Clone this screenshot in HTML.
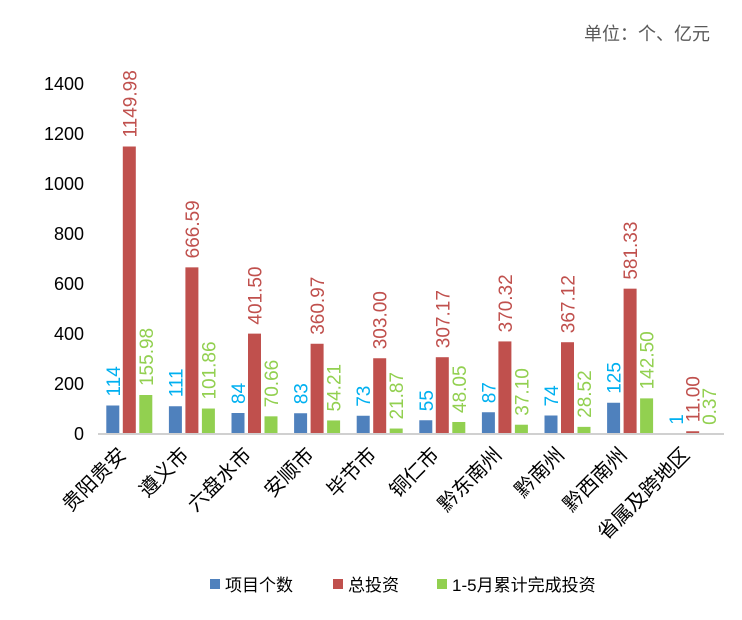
<!DOCTYPE html>
<html><head><meta charset="utf-8"><style>
body{margin:0;background:#fff;}
svg{font-family:"Liberation Sans","Noto Sans CJK SC",sans-serif;}
</style></head><body>
<svg id="c" width="742" height="615">
<text x="710" y="40" text-anchor="end" font-size="18" fill="#595959">单位：个、亿元</text>
<g id="g"></g>
</svg>
<script>
const categories=["贵阳贵安","遵义市","六盘水市","安顺市","毕节市","铜仁市","黔东南州","黔南州","黔西南州","省属及跨地区"];
const projectCounts=[114,111,84,83,73,55,87,74,125,1];
const totalInvest=[1149.98,666.59,401.50,360.97,303.00,307.17,370.32,367.12,581.33,11.00];
const ytdInvest=[155.98,101.86,70.66,54.21,21.87,48.05,37.10,28.52,142.50,0.37];
const countLabels=["114","111","84","83","73","55","87","74","125","1"];
const totalLabels=["1149.98","666.59","401.50","360.97","303.00","307.17","370.32","367.12","581.33","11.00"];
const ytdLabels=["155.98","101.86","70.66","54.21","21.87","48.05","37.10","28.52","142.50","0.37"];
const yTicks=[0,200,400,600,800,1000,1200,1400];
const NS="http://www.w3.org/2000/svg";
const g=document.getElementById('g');
const x0=98,x1=724,y0=434,y1=84,yMax=1400;
const band=(x1-x0)/categories.length;
function y(v){return y0-(v/yMax)*(y0-y1);}
function xc(i){return x0+band*(i+0.5);}
function mk(t,a){const e=document.createElementNS(NS,t);for(const k in a)e.setAttribute(k,a[k]);g.appendChild(e);return e;}
yTicks.forEach(t=>{
  const e=mk('text',{x:84,y:y(t)+6,'text-anchor':'end','font-size':18,fill:'#000'});
  e.textContent=t;
  
  
});
const series=[
  {vals:projectCounts,labels:countLabels,color:'#4f81bd',lc:'#00b0f0',off:-16.5,name:'bar-count'},
  {vals:totalInvest,labels:totalLabels,color:'#c0504d',lc:'#c0504d',off:0,name:'bar-total'},
  {vals:ytdInvest,labels:ytdLabels,color:'#92d050',lc:'#92d050',off:16.5,name:'bar-ytd'}
];
series.forEach(s=>{
  s.vals.forEach((v,i)=>{
    const cx=xc(i)+s.off;
    const r=mk('rect',{x:cx-6.5,y:y(v),width:13,height:y0-y(v),fill:s.color});
    
    
    const ly=y(v)-9, lx=cx+7;
    const t=mk('text',{x:lx,y:ly,'font-size':19,fill:s.lc,transform:`rotate(-90 ${lx} ${ly})`});
    t.textContent=s.labels[i];
    
    
  });
});
const ax=mk('line',{x1:x0,y1:y0,x2:x1,y2:y0,stroke:'#d0d0d0','stroke-width':2});


categories.forEach((c,i)=>{
  const lx=xc(i)-2, ly=y0+22;
  const t=mk('text',{x:lx,y:ly,'text-anchor':'end','font-size':20,fill:'#000',transform:`rotate(-45 ${lx} ${ly})`});
  t.textContent=c;
  
  
});
const legend=[['项目个数','#4f81bd',210],['总投资','#c0504d',333],['1-5月累计完成投资','#92d050',437]];
legend.forEach(l=>{
  const r=mk('rect',{x:l[2],y:579,width:10,height:10,fill:l[1]});
  
  
  const t=mk('text',{x:l[2]+15,y:591,'font-size':17,fill:'#000'});
  t.textContent=l[0];
  
  
});
</script>
</body></html>
